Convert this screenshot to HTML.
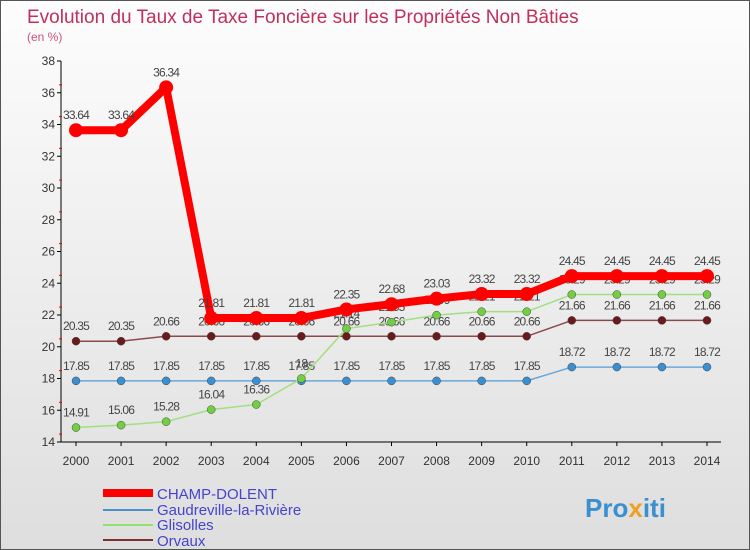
<!DOCTYPE html>
<html><head><meta charset="utf-8"><style>
body{margin:0}
#c{width:750px;height:550px;position:relative;overflow:hidden;background:linear-gradient(#fdfdfd,#dedede);font-family:"Liberation Sans",sans-serif;box-sizing:border-box;border:1px solid #555}
</style></head><body>
<div id="c">
<svg id="s" width="750" height="550" style="position:absolute;left:0;top:0">
<text x="26" y="22" font-size="19" fill="#c0305a">Evolution du Taux de Taxe Foncière sur les Propriétés Non Bâties</text>
<text x="26" y="40" font-size="12" fill="#d05078">(en %)</text>
<g id="axes"></g><g id="series"></g>
<g>
<rect x="102" y="488" width="50" height="8" fill="#ff0000"/>
<text x="156" y="498" font-size="15" fill="#4444cc">CHAMP-DOLENT</text>
<rect x="102" y="508" width="50" height="2" fill="#4a90c8"/>
<text x="156" y="514" font-size="15" fill="#4444cc">Gaudreville-la-Rivière</text>
<rect x="102" y="523" width="50" height="2" fill="#90e070"/>
<text x="156" y="529" font-size="15" fill="#4444cc">Glisolles</text>
<rect x="102" y="538" width="50" height="2" fill="#7a3030"/>
<text x="156" y="545" font-size="15" fill="#4444cc">Orvaux</text>
</g>
<text x="584" y="516" font-size="26" font-weight="bold" fill="#3a8fd0">Pro<tspan fill="#f0a020">x</tspan>iti</text>
</svg>
</div>
<script>
const years=["2000","2001","2002","2003","2004","2005","2006","2007","2008","2009","2010","2011","2012","2013","2014"];
const champ=[33.64,33.64,36.34,21.81,21.81,21.81,22.35,22.68,23.03,23.32,23.32,24.45,24.45,24.45,24.45];
const gaud=[17.85,17.85,17.85,17.85,17.85,17.85,17.85,17.85,17.85,17.85,17.85,18.72,18.72,18.72,18.72];
const glis=[14.91,15.06,15.28,16.04,16.36,18,21.14,21.55,21.99,22.21,22.21,23.29,23.29,23.29,23.29];
const orv=[20.35,20.35,20.66,20.66,20.66,20.66,20.66,20.66,20.66,20.66,20.66,21.66,21.66,21.66,21.66];
const yTicks=[14,16,18,20,22,24,26,28,30,32,34,36,38];
const NS="http://www.w3.org/2000/svg";
const xs=i=>75+i*(706-75)/(years.length-1);
const ys=v=>441-(v-14)*(441-60)/24;
function mk(t,a,p){const e=document.createElementNS(NS,t);for(const k in a)e.setAttribute(k,a[k]);p.appendChild(e);return e;}
const ax=document.getElementById('axes'),sg=document.getElementById('series');
const ya=mk('line',{x1:60,y1:60,x2:60,y2:441,stroke:'#000'},ax);

const xa=mk('line',{x1:60,y1:441,x2:720,y2:441,stroke:'#000'},ax);

yTicks.forEach(v=>{const y=ys(v);
mk('line',{x1:56,y1:y,x2:60,y2:y,stroke:'#000'},ax);
if(v<38)mk('line',{x1:58,y1:y-7.9,x2:61,y2:y-7.9,stroke:'#e00'},ax);
const t=mk('text',{x:54,y:y+4,'font-size':12,'text-anchor':'end',fill:'#333'},ax);t.textContent=v;
});
years.forEach((yr,i)=>{const x=xs(i);mk('line',{x1:x,y1:441,x2:x,y2:445,stroke:'#000'},ax);
const t=mk('text',{x:x,y:464,'font-size':12,'text-anchor':'middle',fill:'#333'},ax);t.textContent=yr;
});
function series(d,col,w,r,name,dot){
const g=mk('g',{},sg);
const p=mk('polyline',{points:d.map((v,i)=>xs(i)+','+ys(v)).join(' '),fill:'none',stroke:col,'stroke-width':w,'stroke-linejoin':'round'},g);

d.forEach((v,i)=>{const c=mk('circle',{cx:xs(i),cy:ys(v),r:r,fill:dot,stroke:w>3?'none':'#444','stroke-width':0.5},g);

const t=mk('text',{x:xs(i),y:ys(v)-11,'font-size':12,'text-anchor':'middle',fill:'#444','letter-spacing':'-0.8'},g);t.textContent=v;
});}
series(gaud,'#6aa8d8',1.5,4,'gaudreville','#3a8fd0');
series(orv,'#8a4a4a',1.5,4,'orvaux','#6a1a1a');
series(glis,'#a0e080',1.5,4,'glisolles','#70d040');
series(champ,'#ff0000',8,7,'champ-dolent','#ff0000');
</script>
</body></html>
